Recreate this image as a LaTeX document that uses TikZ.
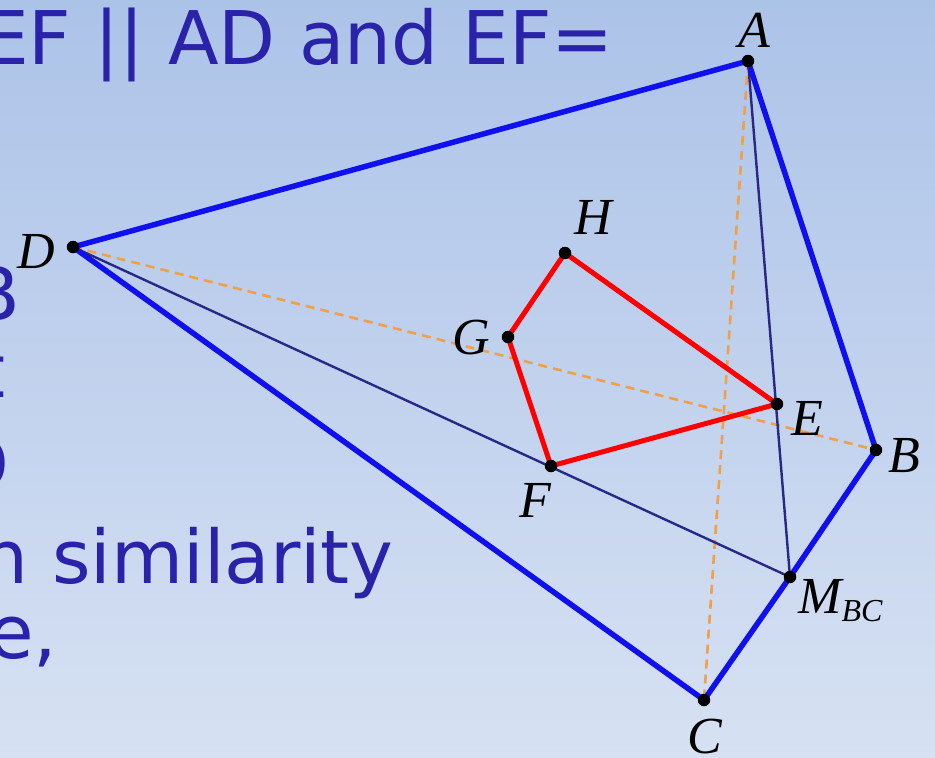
\documentclass[tikz,border=0pt]{standalone}
\usepackage{fontspec}
\setmainfont{Liberation Serif}
\newfontfamily\comicfont{DejaVu Sans}
\definecolor{bgtop}{RGB}{172,195,232}
\definecolor{bgbot}{RGB}{215,225,243}
\definecolor{slideblue}{RGB}{42,34,168}
\definecolor{quadblue}{RGB}{16,16,238}
\definecolor{navyline}{RGB}{40,40,135}
\definecolor{dashorange}{RGB}{240,160,75}
\pgfdeclarelayer{back}
\pgfdeclarelayer{lines}
\pgfsetlayers{back,lines,main}
\begin{document}
\begin{tikzpicture}[x=1pt,y=-1pt,
  vtx/.style={circle,fill=black,inner sep=0pt,minimum size=12.5pt},
  lab/.style={font=\fontsize{52}{54}\selectfont\itshape, text=black, inner sep=0pt},
  slide/.style={font=\comicfont\fontsize{74}{80}\selectfont, text=slideblue, inner sep=0pt},
  quadline/.style={line width=5.5pt, draw=quadblue, line join=round},
  medline/.style={line width=2.4pt, draw=navyline},
  diagline/.style={line width=2.6pt, draw=dashorange, dash pattern=on 9pt off 6pt},
  redline/.style={line width=5pt, draw=red, line join=round}]
\useasboundingbox (0,0) rectangle (935,758);
\begin{pgfonlayer}{back}
\shade[top color=bgtop, bottom color=bgbot] (0,0) rectangle (935,758);
\end{pgfonlayer}
\clip (0,0) rectangle (935,758);

% slide text fragments
\node[slide, anchor=base west] (t1) at (-18,64) {EF || AD and EF=};
\node[slide, anchor=base east] (t2) at (20,320) {B};
\node[slide, anchor=base east] (t3) at (6,397) {t};
\node[slide, anchor=base east] (t4) at (10,490) {D};
\node[slide, anchor=base east] (t5) at (394,583) {n similarity};
\node[slide, anchor=base west] (t6) at (-12,658) {e,};

% points
\node[vtx] (A) at (748,61) {};
\node[vtx] (B) at (876,450) {};
\node[vtx] (C) at (704,700) {};
\node[vtx] (D) at (73,247) {};
\node[vtx] (E) at (777,404) {};
\node[vtx] (F) at (551,466) {};
\node[vtx] (G) at (508,337) {};
\node[vtx] (H) at (565,253) {};
\node[vtx] (M) at (790,577) {};

\begin{pgfonlayer}{lines}
\draw[diagline] (A.center) -- (C.center);
\draw[diagline] (D.center) -- (B.center);
\draw[medline] (A.center) -- (M.center);
\draw[medline] (D.center) -- (M.center);
\draw[quadline] (A.center) -- (B.center) -- (M.center) -- (C.center) -- (D.center) -- cycle;
\draw[redline] (H.center) -- (G.center) -- (F.center) -- (E.center) -- cycle;
\end{pgfonlayer}

% labels
\node[lab] (lA) at (754,30) {A};
\node[lab] (lH) at (593,217) {H};
\node[lab] (lG) at (471,338) {G};
\node[lab] (lF) at (535,500) {F};
\node[lab] (lD) at (36,252) {D};
\node[lab] (lE) at (807,418) {E};
\node[lab] (lB) at (904,456) {B};
\node[lab, anchor=base west] (lM) at (798,613) {M\raisebox{-8pt}{\fontsize{32}{32}\selectfont BC}};
\node[lab] (lC) at (705,737) {C};
\end{tikzpicture}
\end{document}
